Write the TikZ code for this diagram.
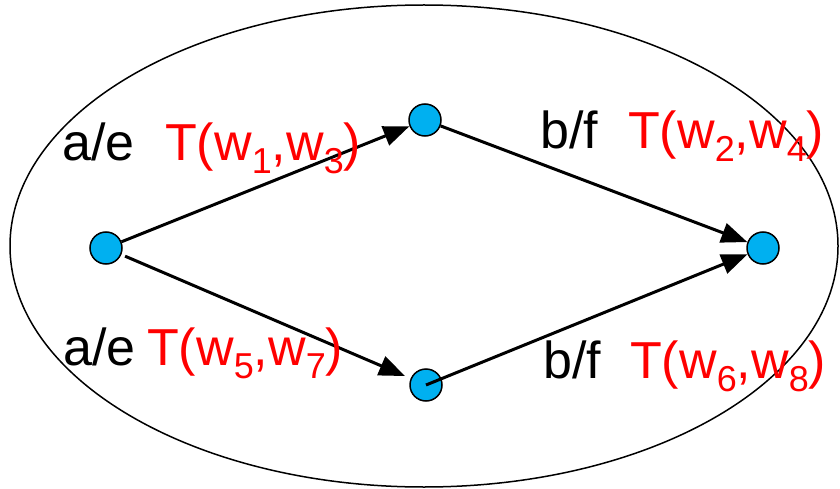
\documentclass[tikz,border=0pt]{standalone}
\usepackage{fontspec}
\setmainfont{Liberation Sans}
\usetikzlibrary{arrows.meta}
\definecolor{dotblue}{RGB}{0,176,240}
\newcommand\sbs[1]{\raisebox{-13pt}{\fontsize{36}{36}\selectfont #1}}
\begin{document}
\begin{tikzpicture}[x=1pt,y=-1pt,
  dot/.style={circle,draw=black,line width=1.5pt,fill=dotblue,minimum size=32pt,inner sep=0pt},
  conn/.style={line width=3pt,-{Triangle[length=26pt,width=20pt]}},
  lbl/.style={anchor=base west,inner sep=0pt,font=\fontsize{52}{60}\selectfont},
  redlbl/.style={lbl,text=red}]
\useasboundingbox (0,0) rectangle (840,489);
\draw[line width=1.5pt] (424,246) ellipse [x radius=414, y radius=241];
\node[dot] (l) at (106,248) {};
\node[dot] (t) at (425,120) {};
\node[dot] (r) at (763,248) {};
\node[dot] (b) at (426,385) {};
\draw[conn] (l) -- (t);
\draw[conn] (t) -- (r);
\draw[conn,shorten <=4pt,shorten >=6pt] (l) -- (b);
\draw[conn] (b.center) -- (r);
\node[lbl] (ae1) at (62,161) {a/e};
\node[redlbl] (t13) at (165,161) {T(w\sbs{1},w\sbs{3})};
\node[lbl] (ae2) at (63,365) {a/e};
\node[redlbl] (t57) at (147,365) {T(w\sbs{5},w\sbs{7})};
\node[lbl] (bf1) at (540,149) {b/f};
\node[redlbl] (t24) at (628,149) {T(w\sbs{2},w\sbs{4})};
\node[lbl] (bf2) at (543,378) {b/f};
\node[redlbl] (t68) at (630,378) {T(w\sbs{6},w\sbs{8})};
\end{tikzpicture}
\end{document}
